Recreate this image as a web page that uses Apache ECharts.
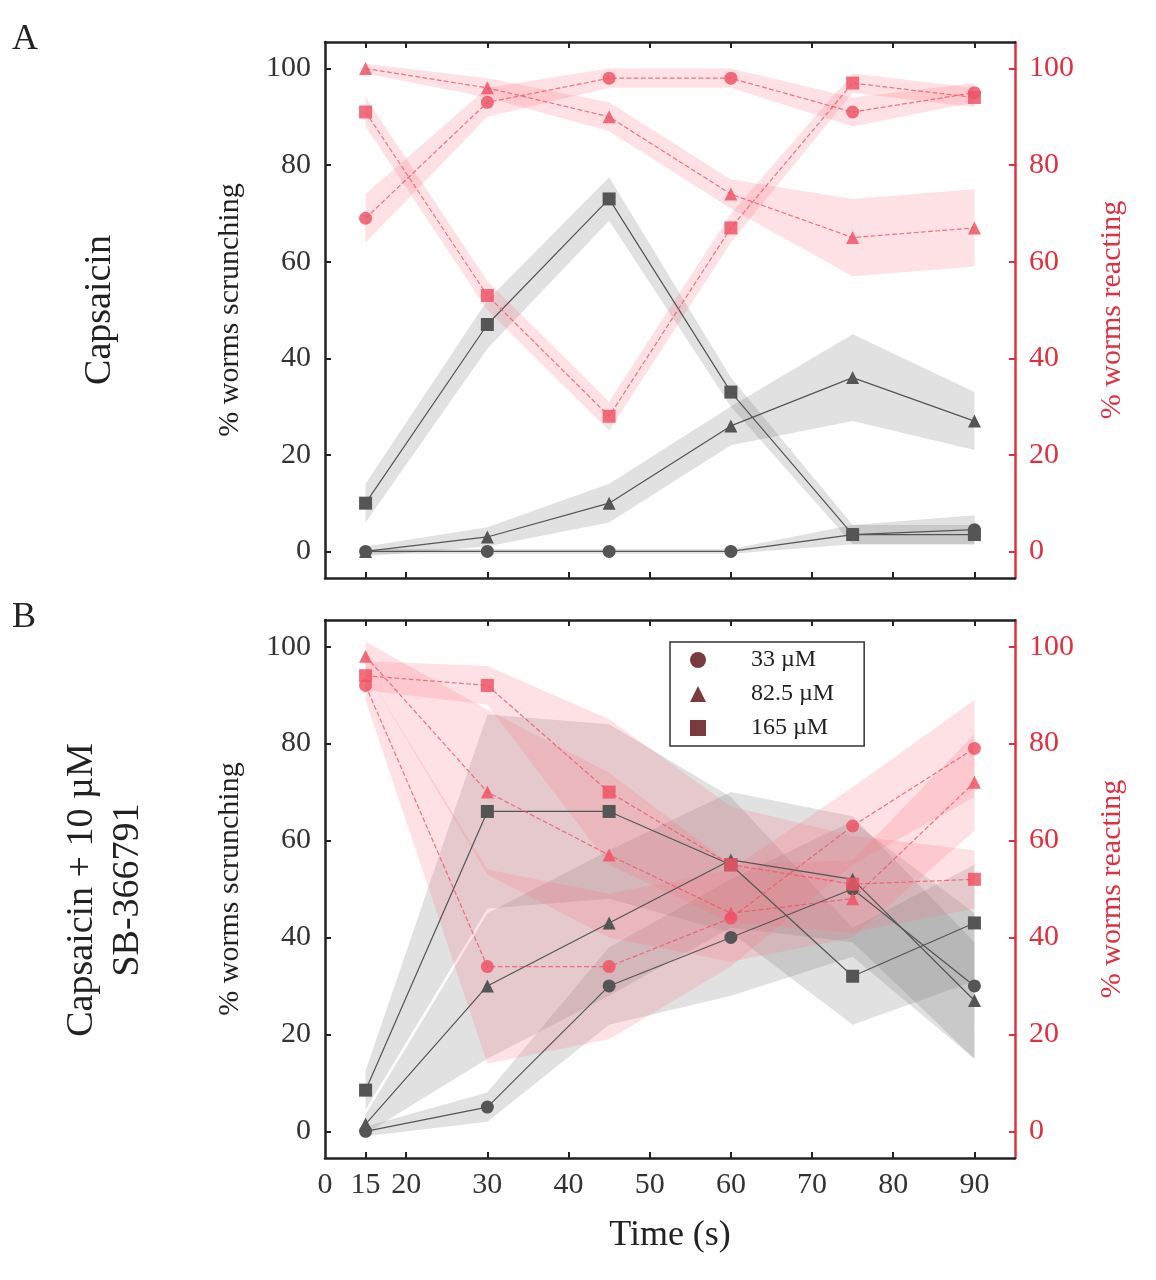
<!DOCTYPE html>
<html><head><meta charset="utf-8">
<script src="https://cdn.jsdelivr.net/npm/echarts@6/dist/echarts.min.js"></script>
<style>html,body{margin:0;background:#fff}#chart1{width:1156px;height:1280px}</style>
</head><body><div id="chart1"></div>
<script>
var times = [15, 30, 45, 60, 75, 90];
var yTicks = [0, 20, 40, 60, 80, 100];
var xTicks = [10, 15, 20, 30, 40, 50, 60, 70, 80, 90];

// panel A
var aScr33 = [0, 0, 0, 0, 3.5, 4.5];
var aScr82 = [0, 3, 10, 26, 36, 27];
var aScr165 = [10, 47, 73, 33, 3.5, 3.5];
var aScr33Err = [0.5, 0.5, 0.5, 0.5, 2, 3];
var aScr82Err = [1, 2, 4, 4, 9, 6];
var aScr165Err = [4, 5, 4.5, 3, 2, 2];
var aRea33 = [69, 93, 98, 98, 91, 95];
var aRea82 = [100, 96, 90, 74, 65, 67];
var aRea165 = [91, 53, 28, 67, 97, 94];
var aRea33Err = [5, 3, 2, 2, 3, 2];
var aRea82Err = [1, 2, 3, 3, 8, 8];
var aRea165Err = [3, 3, 3, 3, 2, 2];

// panel B
var bScr33 = [0, 5, 30, 40, 50, 30];
var bScr82 = [1.5, 30, 43, 56, 52, 27];
var bScr165 = [8.5, 66, 66, 55, 32, 43];
var bScr33Err = [1, 3, 8, 12, 14, 15];
var bScr82Err = [2, 15, 15, 14, 13, 12];
var bScr165Err = [4, 20, 18, 14, 10, 12];
var bRea33 = [92, 34, 34, 44, 63, 79];
var bRea82 = [98, 70, 57, 45, 48, 72];
var bRea165 = [94, 92, 70, 55, 51, 52];
var bRea33Err = [3, 20, 15, 10, 8, 10];
var bRea82Err = [3, 17, 17, 10, 8, 10];
var bRea165Err = [3, 4, 15, 12, 10, 6];

var dom = document.getElementById("chart1");
var myChart = echarts.init(dom);
var serif = 'Liberation Serif';
var GRAY = '#555', RED = '#ee5566';
var series = [];

function addSeries(vals, err, sym, grid, react) {
  var yIdx = grid * 2 + (react ? 1 : 0);
  var col = react ? RED : GRAY;
  var fill = react ? 'rgba(250,120,130,0.22)' : 'rgba(120,120,120,0.22)';
  var band = times.map(function (t, i) { return [t, vals[i] - err[i], vals[i] + err[i]]; });
  series.push({
    type: 'custom', xAxisIndex: grid, yAxisIndex: yIdx, silent: true, z: 1,
    data: band,
    renderItem: function (params, api) {
      if (params.dataIndex !== 0) return null;
      var up = [], lo = [];
      for (var i = 0; i < band.length; i++) {
        up.push(api.coord([band[i][0], band[i][2]]));
        lo.unshift(api.coord([band[i][0], band[i][1]]));
      }
      return { type: 'polygon', shape: { points: up.concat(lo) }, style: { fill: fill } };
    }
  });
  series.push({ type: 'line', xAxisIndex: grid, yAxisIndex: yIdx, symbol: sym, symbolSize: 13, z: 5,
    itemStyle: { color: col, opacity: react ? 0.85 : 1 },
    lineStyle: { color: col, width: 1.2, type: react ? 'dashed' : 'solid', opacity: react ? 0.8 : 1 },
    data: times.map(function (t, i) { return [t, vals[i]]; }) });
}
addSeries(aScr33, aScr33Err, 'circle', 0, false);
addSeries(aScr82, aScr82Err, 'triangle', 0, false);
addSeries(aScr165, aScr165Err, 'rect', 0, false);
addSeries(aRea33, aRea33Err, 'circle', 0, true);
addSeries(aRea82, aRea82Err, 'triangle', 0, true);
addSeries(aRea165, aRea165Err, 'rect', 0, true);
addSeries(bScr33, bScr33Err, 'circle', 1, false);
addSeries(bScr82, bScr82Err, 'triangle', 1, false);
addSeries(bScr165, bScr165Err, 'rect', 1, false);
addSeries(bRea33, bRea33Err, 'circle', 1, true);
addSeries(bRea82, bRea82Err, 'triangle', 1, true);
addSeries(bRea165, bRea165Err, 'rect', 1, true);

var legendNames = ['33 µM', '82.5 µM', '165 µM'];
legendNames.forEach(function (n) {
  series.push({ name: n, type: 'line', xAxisIndex: 1, yAxisIndex: 2, data: [], itemStyle: { color: '#7a3b3e' } });
});

function xAxis(grid, labels) {
  return {
    type: 'value', gridIndex: grid, min: 10, max: 95,
    axisLine: { show: true, onZero: false, lineStyle: { color: '#222', width: 2.5 } },
    axisTick: { show: true, inside: true, length: 6, customValues: xTicks.slice(1), lineStyle: { color: '#222', width: 2 } },
    axisLabel: { show: labels, customValues: xTicks, fontFamily: serif, fontSize: 30, color: '#333', margin: 12,
      formatter: function (v) { return v === 10 ? '0' : String(v); } },
    splitLine: { show: false },
    name: labels ? 'Time (s)' : '', nameLocation: 'middle', nameGap: 60,
    nameTextStyle: { fontFamily: serif, fontSize: 36, color: '#222' }
  };
}
function topAxis(grid) {
  return { type: 'value', gridIndex: grid, position: 'top', min: 10, max: 95,
    axisLine: { show: true, onZero: false, lineStyle: { color: '#222', width: 2.5 } },
    axisTick: { inside: true, length: 6, customValues: xTicks.slice(1), lineStyle: { color: '#222', width: 2 } },
    axisLabel: { show: false }, splitLine: { show: false } };
}
function yAxis(grid, right) {
  var col = right ? '#e03040' : '#222';
  return {
    type: 'value', gridIndex: grid, min: -5.5, max: 105.5, position: right ? 'right' : 'left',
    axisLine: { show: true, onZero: false, lineStyle: { color: col, width: 2.5 } },
    axisTick: { show: true, inside: true, length: 6, customValues: yTicks, lineStyle: { color: col, width: 2 } },
    axisLabel: { customValues: yTicks, fontFamily: serif, fontSize: 30, color: right ? '#e03040' : '#333', margin: 14 },
    splitLine: { show: false },
    name: right ? '% worms reacting' : '% worms scrunching', nameLocation: 'middle', nameGap: right ? 82 : 80,
    nameRotate: 90,
    nameTextStyle: { fontFamily: serif, fontSize: 30, color: right ? '#e03040' : '#222' }
  };
}

option = {
  backgroundColor: '#fff',
  animation: false,
  grid: [
    { left: 325, right: 141, top: 42, height: 536 },
    { left: 325, right: 141, top: 620, height: 538 }
  ],
  xAxis: [xAxis(0, false), xAxis(1, true), topAxis(0), topAxis(1)],
  yAxis: [yAxis(0, false), yAxis(0, true), yAxis(1, false), yAxis(1, true)],
  legend: {
    data: [
      { name: legendNames[0], icon: 'circle' },
      { name: legendNames[1], icon: 'triangle' },
      { name: legendNames[2], icon: 'rect' }
    ],
    orient: 'vertical', left: 670, top: 642, itemWidth: 16, itemHeight: 16, itemGap: 10,
    padding: [6, 30, 6, 20], borderColor: '#333', borderWidth: 1.5, backgroundColor: '#fff',
    textStyle: { fontFamily: serif, fontSize: 24, color: '#222', padding: [0, 0, 0, 40] }
  },
  graphic: [
    { type: 'text', left: 12, top: 22, style: { text: 'A', font: '36px "Liberation Serif"', fill: '#222' } },
    { type: 'text', left: 12, top: 600, style: { text: 'B', font: '36px "Liberation Serif"', fill: '#222' } },
    { type: 'text', x: 100, y: 310, rotation: Math.PI / 2, style: { text: 'Capsaicin', font: '38px "Liberation Serif"', fill: '#222', align: 'center', verticalAlign: 'middle' } },
    { type: 'text', x: 105, y: 890, rotation: Math.PI / 2, style: { text: 'Capsaicin + 10 µM\nSB-366791', font: '38px "Liberation Serif"', fill: '#222', align: 'center', verticalAlign: 'middle', lineHeight: 46 } }
  ],
  series: series
};

myChart.setOption(option);
</script></body></html>
